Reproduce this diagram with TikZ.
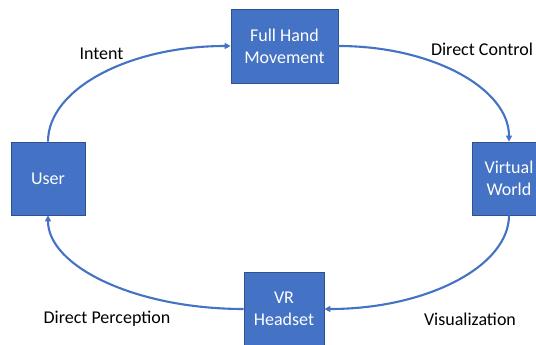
\documentclass[tikz,border=0pt]{standalone}
\usepackage{fontspec}
\setmainfont{Carlito}
\usetikzlibrary{arrows.meta}
\definecolor{boxblue}{HTML}{4472C4}
\definecolor{boxedge}{HTML}{2F528F}
\tikzset{
  stage/.style={draw=boxedge, line width=0.8pt, fill=boxblue, text=white,
    align=center, inner sep=0pt, font=\fontsize{18}{22}\selectfont},
  flow/.style={draw=boxblue, line width=2.1pt,
    -{Triangle[length=6pt,width=6pt]}},
  tag/.style={font=\fontsize{18}{22}\selectfont, text=black}
}
\begin{document}
\begin{tikzpicture}[x=1pt,y=-1pt]
\useasboundingbox (0,0) rectangle (536,345);
\clip (0,0) rectangle (536,345);
\fill[white] (0,0) rectangle (536,345);
% the four stages of the loop
\node[stage, minimum width=107pt, minimum height=74pt] (hand) at (284.5,46) {Full Hand\\Movement};
\node[stage, minimum width=74pt, minimum height=73pt] (user) at (48,178.5) {User};
\node[stage, minimum width=74pt, minimum height=73pt] (world) at (509,178.5) {Virtual\\World};
\node[stage, minimum width=80pt, minimum height=74pt] (vr) at (284,309) {VR\\Headset};
% connectors
\draw[flow] (user.north) .. controls ++(0,-53) and ++(-101,0) .. (hand.west);
\draw[flow] (hand.east) .. controls ++(94,0) and ++(0,-53) .. (world.north);
\draw[flow] (world.south) .. controls ++(0,51) and ++(102,0) .. (vr.east);
\draw[flow] (vr.west) .. controls ++(-108,0) and ++(0,51) .. (user.south);
% labels
\node[tag] (l1) at (101.5,54) {Intent};
\node[tag] (l2) at (482,49) {Direct Control};
\node[tag] (l3) at (107,319) {Direct Perception};
\node[tag] (l4) at (470,319) {Visualization};
\end{tikzpicture}
\end{document}
